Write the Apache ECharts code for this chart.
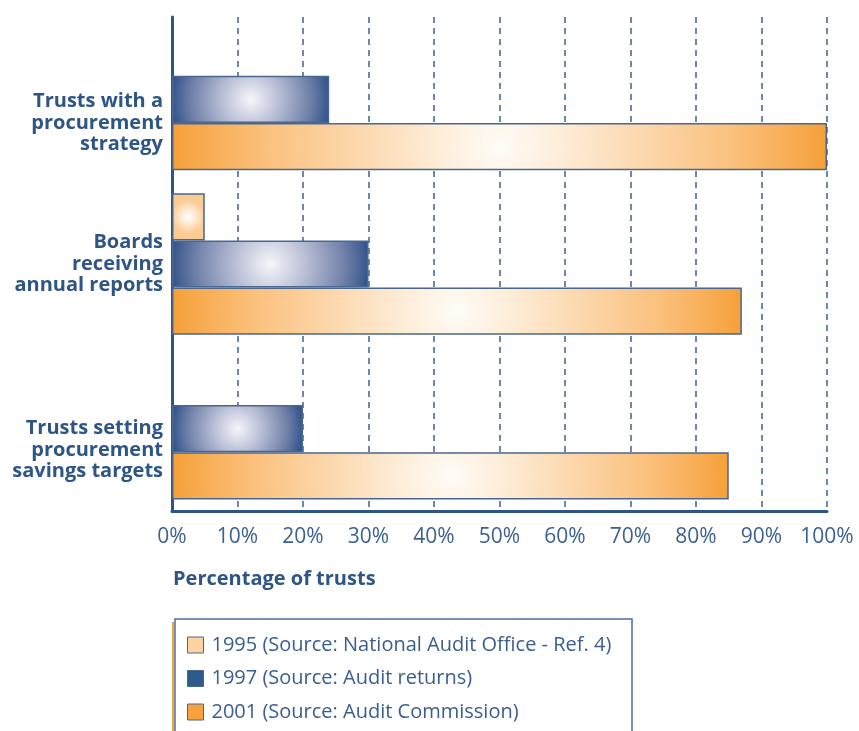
<!DOCTYPE html>
<html>
<head>
<meta charset="utf-8">
<script src="https://cdn.jsdelivr.net/npm/echarts@6/dist/echarts.min.js"></script>
<style>
  html,body{margin:0;padding:0;background:#fff;}
  #main{width:859px;height:731px;}
</style>
</head>
<body>
<div id="main"></div>
<script>
var categories=[
  'Trusts with a\nprocurement\nstrategy',
  'Boards\nreceiving\nannual reports',
  'Trusts setting\nprocurement\nsavings targets'
];
var seriesNames=[
  '1995 (Source: National Audit Office - Ref. 4)',
  '1997 (Source: Audit returns)',
  '2001 (Source: Audit Commission)'
];
var values1995=[null,5,null];
var values1997=[24,30,20];
var values2001=[100,87,85];
var xTicks=[0,10,20,30,40,50,60,70,80,90,100];

var navy='#2d5586';
var plotW=655, barH=47;

// radial highlight in the middle of each bar, reaching the ends of the bar
function grad(v,stops){
  var w=v/100*plotW;
  var r=(w/2)/Math.min(w,barH)*1.02;
  return {type:'radial',x:0.5,y:0.5,r:r,colorStops:stops};
}
var stops1995=[{offset:0,color:'#ffffff'},{offset:0.45,color:'#fee9d2'},{offset:1,color:'#fbcb94'}];
var stops1997=[{offset:0,color:'#f6f6fa'},{offset:0.35,color:'#b9bfd6'},{offset:0.75,color:'#6e7fa8'},{offset:1,color:'#2f5189'}];
var stops2001=[{offset:0,color:'#fffcf7'},{offset:0.3,color:'#fde3c4'},{offset:0.7,color:'#fbc07c'},{offset:1,color:'#f59d33'}];

function toData(arr,stops){
  return arr.map(function(v){
    if(v==null) return '-';
    return {value:v,itemStyle:{color:grad(v,stops)}};
  });
}

var barBorder={borderColor:'#4a6790',borderWidth:1.5};

var chart=echarts.init(document.getElementById('main'));
var option={
  animation:false,
  backgroundColor:'#fff',
  grid:{left:172,right:32,top:17,bottom:220},
  title:{
    text:'Percentage of trusts',
    left:173,top:569,padding:0,
    textStyle:{fontFamily:'Open Sans',fontWeight:'bold',fontSize:20,color:navy}
  },
  legend:{
    orient:'vertical',
    left:187,top:635,padding:0,
    itemWidth:16,itemHeight:16,itemGap:13.5,
    icon:'rect',
    textStyle:{fontFamily:'Open Sans',fontSize:20,lineHeight:20,color:'#3a5e8d',padding:[0,0,0,3]},
    data:[
      {name:seriesNames[0],itemStyle:{color:'#fdd3a0',borderColor:'#4a6790',borderWidth:1}},
      {name:seriesNames[1],itemStyle:{color:'#2d5a8c',borderColor:'#4a6790',borderWidth:1}},
      {name:seriesNames[2],itemStyle:{color:'#f7a23c',borderColor:'#4a6790',borderWidth:1}}
    ]
  },
  graphic:[
    {type:'rect',shape:{x:175,y:619,width:457,height:130},style:{fill:'none',stroke:'#4a6d99',lineWidth:1.5},z:-1},
    {type:'line',shape:{x1:173,y1:622,x2:173,y2:740},style:{stroke:'#f4a040',lineWidth:2},z:-1}
  ],
  xAxis:{
    type:'value',min:0,max:100,interval:10,
    axisLine:{show:true,lineStyle:{color:navy,width:3}},
    axisTick:{show:false},
    axisLabel:{
      margin:16,
      fontFamily:'Open Sans',fontSize:21,color:'#3d6190',
      formatter:function(v){return xTicks.indexOf(v)>=0?v+'%':'';}
    },
    splitLine:{show:true,lineStyle:{color:'#3b6294',width:1.5,type:[6,5]}}
  },
  yAxis:{
    type:'category',inverse:true,
    data:categories,
    axisLine:{show:true,lineStyle:{color:navy,width:3}},
    axisTick:{show:false},
    axisLabel:{
      margin:9,align:'right',
      fontFamily:'Open Sans',fontWeight:'bold',fontSize:20,lineHeight:21.5,color:navy,
      // labels sit beside the bars that are present, not the middle of the band
      formatter:function(v,i){return ['{s0| }\n','','{s2| }\n'][i]+v;},
      rich:{
        s0:{lineHeight:47,fontSize:2},
        s2:{lineHeight:43,fontSize:2}
      }
    }
  },
  series:[
    {name:seriesNames[0],type:'bar',barGap:'0%',barCategoryGap:'14%',
     itemStyle:Object.assign({color:'#fdd3a0'},barBorder),data:toData(values1995,stops1995)},
    {name:seriesNames[1],type:'bar',barGap:'0%',barCategoryGap:'14%',
     itemStyle:Object.assign({color:'#2d5a8c'},barBorder),data:toData(values1997,stops1997)},
    {name:seriesNames[2],type:'bar',barGap:'0%',barCategoryGap:'14%',
     itemStyle:Object.assign({color:'#f7a23c'},barBorder),data:toData(values2001,stops2001)}
  ]
};
chart.setOption(option);
</script>
</body>
</html>
